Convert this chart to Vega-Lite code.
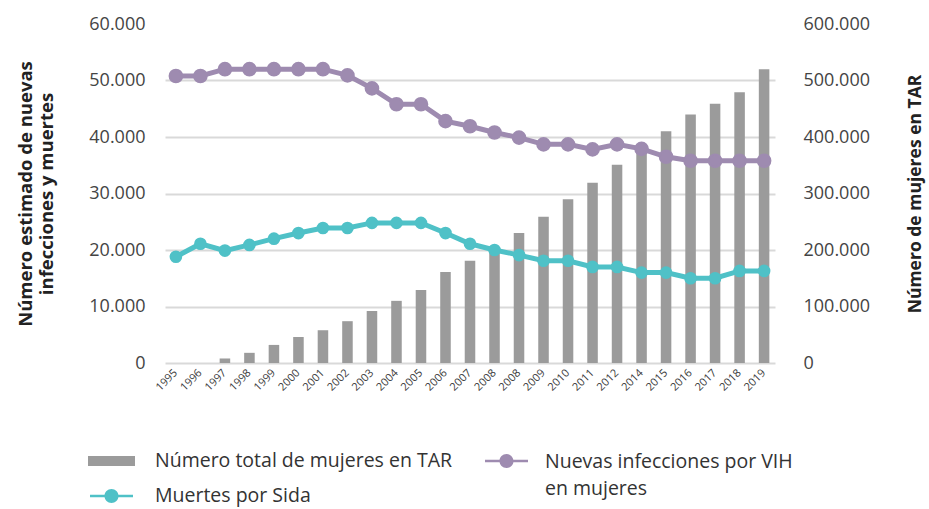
{
  "$schema": "https://vega.github.io/schema/vega-lite/v6.json",
  "width": 610,
  "height": 339,
  "autosize": {"type": "none"},
  "padding": {"left": 165, "top": 24, "right": 154, "bottom": 146},
  "background": "white",
  "config": {
    "view": {"stroke": null},
    "font": "Open Sans",
    "locale": {"number": {"decimal": ",", "thousands": ".", "grouping": [3], "currency": ["", " €"]}}
  },
  "datasets": {
    "tar": [
      {"anio": "1995", "valor": 0},
      {"anio": "1996", "valor": 0},
      {"anio": "1997", "valor": 8000},
      {"anio": "1998", "valor": 18000},
      {"anio": "1999", "valor": 32000},
      {"anio": "2000", "valor": 46000},
      {"anio": "2001", "valor": 58000},
      {"anio": "2002", "valor": 74000},
      {"anio": "2003", "valor": 92000},
      {"anio": "2004", "valor": 110000},
      {"anio": "2005", "valor": 129000},
      {"anio": "2006", "valor": 161000},
      {"anio": "2007", "valor": 181000},
      {"anio": "2008", "valor": 200000},
      {"anio": "2008-2", "valor": 230000},
      {"anio": "2009", "valor": 259000},
      {"anio": "2010", "valor": 290000},
      {"anio": "2011", "valor": 319000},
      {"anio": "2012", "valor": 351000},
      {"anio": "2014", "valor": 377000},
      {"anio": "2015", "valor": 410000},
      {"anio": "2016", "valor": 440000},
      {"anio": "2017", "valor": 459000},
      {"anio": "2018", "valor": 479000},
      {"anio": "2019", "valor": 520000}
    ],
    "muertes": [
      {"anio": "1995", "valor": 18800},
      {"anio": "1996", "valor": 21100},
      {"anio": "1997", "valor": 19900},
      {"anio": "1998", "valor": 20900},
      {"anio": "1999", "valor": 22000},
      {"anio": "2000", "valor": 23000},
      {"anio": "2001", "valor": 23900},
      {"anio": "2002", "valor": 23900},
      {"anio": "2003", "valor": 24800},
      {"anio": "2004", "valor": 24800},
      {"anio": "2005", "valor": 24800},
      {"anio": "2006", "valor": 23000},
      {"anio": "2007", "valor": 21100},
      {"anio": "2008", "valor": 20000},
      {"anio": "2008-2", "valor": 19100},
      {"anio": "2009", "valor": 18100},
      {"anio": "2010", "valor": 18100},
      {"anio": "2011", "valor": 17000},
      {"anio": "2012", "valor": 17000},
      {"anio": "2014", "valor": 16000},
      {"anio": "2015", "valor": 16000},
      {"anio": "2016", "valor": 15000},
      {"anio": "2017", "valor": 15000},
      {"anio": "2018", "valor": 16300},
      {"anio": "2019", "valor": 16300}
    ],
    "nuevas": [
      {"anio": "1995", "valor": 50800},
      {"anio": "1996", "valor": 50800},
      {"anio": "1997", "valor": 52000},
      {"anio": "1998", "valor": 52000},
      {"anio": "1999", "valor": 52000},
      {"anio": "2000", "valor": 52000},
      {"anio": "2001", "valor": 52000},
      {"anio": "2002", "valor": 50900},
      {"anio": "2003", "valor": 48600},
      {"anio": "2004", "valor": 45800},
      {"anio": "2005", "valor": 45800},
      {"anio": "2006", "valor": 42800},
      {"anio": "2007", "valor": 41900},
      {"anio": "2008", "valor": 40800},
      {"anio": "2008-2", "valor": 39900},
      {"anio": "2009", "valor": 38700},
      {"anio": "2010", "valor": 38700},
      {"anio": "2011", "valor": 37800},
      {"anio": "2012", "valor": 38700},
      {"anio": "2014", "valor": 37900},
      {"anio": "2015", "valor": 36500},
      {"anio": "2016", "valor": 35800},
      {"anio": "2017", "valor": 35800},
      {"anio": "2018", "valor": 35800},
      {"anio": "2019", "valor": 35800}
    ]
  },
  "encoding": {
    "x": {
      "field": "anio",
      "type": "ordinal",
      "sort": null,
      "scale": {"paddingInner": 0.57, "paddingOuter": 0.23},
      "axis": {
        "title": null,
        "labelAngle": -45,
        "labelAlign": "right",
        "labelBaseline": "middle",
        "labelFontSize": 11,
        "labelColor": "#3a3a3a",
        "labelPadding": 8,
        "labelExpr": "substring(datum.label, 0, 4)",
        "domain": false,
        "ticks": false
      }
    }
  },
  "layer": [
    {
      "data": {"name": "tar"},
      "mark": {"type": "bar"},
      "encoding": {
        "y": {
          "field": "valor",
          "type": "quantitative",
          "scale": {"domain": [0, 600000]},
          "axis": {
            "orient": "right",
            "title": "Número de mujeres en TAR",
            "titleFontSize": 17.5,
            "titleFontWeight": "bold",
            "titleColor": "#222222",
            "titleAngle": -90,
            "titlePadding": 55,
            "labelFontSize": 18,
            "labelColor": "#444444",
            "labelPadding": 28,
            "format": ",d",
            "tickCount": 6,
            "grid": false,
            "domain": false,
            "ticks": false
          }
        },
        "color": {
          "datum": "Número total de mujeres en TAR",
          "scale": {
            "domain": ["Número total de mujeres en TAR", "Muertes por Sida"],
            "range": ["#9b9b9b", "#4fc1c7"]
          },
          "legend": {
            "title": null,
            "orient": "none",
            "direction": "vertical",
            "legendX": -63.5,
            "legendY": 427,
            "rowPadding": 15,
            "symbolSize": 400,
            "labelFont": "Open Sans",
            "labelFontSize": 19.5,
            "labelColor": "#333333",
            "labelOffset": 33.5,
            "labelLimit": 400,
            "encode": {
              "symbols": {
                "update": {
                  "shape": {"signal": "datum.value == 'Número total de mujeres en TAR' ? 'M-2.35,-0.5H2.35V0.5H-2.35Z' : 'M-2.15,-0.13H2.15V0.13H-2.15Z M0.7,0 A0.7,0.7 0 1 1 -0.7,0 A0.7,0.7 0 1 1 0.7,0Z'"},
                  "fill": {"scale": "color", "field": "value"},
                  "stroke": {"value": "transparent"},
                  "strokeWidth": {"value": 0},
                  "opacity": {"value": 1},
                  "fillOpacity": {"value": 1}
                }
              }
            }
          }
        }
      }
    },
    {
      "encoding": {
        "y": {
          "field": "valor",
          "type": "quantitative",
          "scale": {"domain": [0, 60000]},
          "axis": {
            "orient": "left",
            "title": ["Número estimado de nuevas", "infecciones y muertes"],
            "titleFontSize": 18.5,
            "titleFontWeight": "bold",
            "titleColor": "#222222",
            "titlePadding": 32,
            "titleLineHeight": 21,
            "labelFontSize": 18,
            "labelColor": "#444444",
            "labelPadding": 20,
            "format": ",d",
            "tickCount": 6,
            "grid": true,
            "gridColor": {"condition": {"test": "datum.value >= 60000", "value": "transparent"}, "value": "#d9d9d9"},
            "gridWidth": 2,
            "domain": false,
            "ticks": false
          }
        }
      },
      "layer": [
        {
          "data": {"name": "muertes"},
          "mark": {"type": "line", "strokeWidth": 5, "point": {"filled": true, "size": 160, "opacity": 1}},
          "encoding": {
            "color": {"datum": "Muertes por Sida"}
          }
        },
        {
          "data": {"name": "nuevas"},
          "mark": {"type": "line", "color": "#9e8bb0", "strokeWidth": 5, "point": {"filled": true, "size": 160, "opacity": 1, "color": "#9e8bb0"}},
          "encoding": {
            "stroke": {
              "datum": "Nuevas infecciones por VIH en mujeres",
              "scale": {"range": ["#9e8bb0"]},
              "legend": {
                "title": null,
                "orient": "none",
                "legendX": 331.5,
                "legendY": 427,
                "symbolSize": 400,
                "labelFont": "Open Sans",
                "labelFontSize": 19.5,
                "labelColor": "#333333",
                "labelOffset": 28.5,
                "labelLimit": 400,
                "labelBaseline": "top",
                "labelExpr": "['Nuevas infecciones por VIH', 'en mujeres']",
                "encode": {
                  "labels": {
                    "update": {
                      "dy": {"value": -8},
                      "lineHeight": {"value": 27}
                    }
                  },
                  "symbols": {
                    "update": {
                      "shape": {"value": "M-2.15,-0.13H2.15V0.13H-2.15Z M0.7,0 A0.7,0.7 0 1 1 -0.7,0 A0.7,0.7 0 1 1 0.7,0Z"},
                      "fill": {"value": "#9e8bb0"},
                      "stroke": {"value": "transparent"},
                      "strokeWidth": {"value": 0},
                      "opacity": {"value": 1},
                      "fillOpacity": {"value": 1}
                    }
                  }
                }
              }
            }
          }
        }
      ]
    }
  ],
  "resolve": {"scale": {"y": "independent"}}
}
